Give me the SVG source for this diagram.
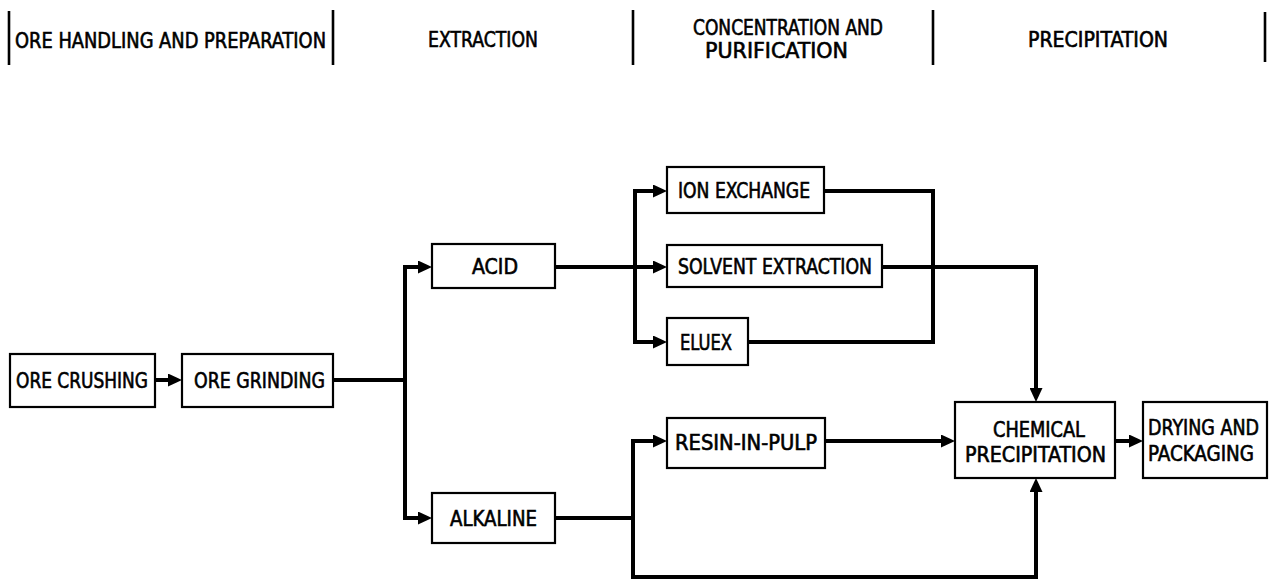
<svg xmlns="http://www.w3.org/2000/svg" width="1271" height="581" viewBox="0 0 1271 581">
<style>
  .bg { fill: #ffffff; }
  .box { fill: #ffffff; stroke: #000; stroke-width: 2.2; }
  .hdr { stroke: #000; stroke-width: 2.6; }
  .t { font-family: "Liberation Sans Narrow", "DejaVu Sans Condensed", "Liberation Sans", sans-serif; font-size: 21px; font-weight: normal; fill: #000; stroke: #000; stroke-width: 0.6; }
  .c { fill: none; stroke: #000; stroke-width: 4; stroke-linejoin: miter; stroke-linecap: square; }
</style>
<defs>
  <marker id="ah" markerWidth="14" markerHeight="13" refX="6" refY="6.5" orient="auto" markerUnits="userSpaceOnUse">
    <path d="M0,0 L14,6.5 L0,13 z" fill="#000"/>
  </marker>
</defs>
<rect class="bg" x="0" y="0" width="1271" height="581"/>

<g id="headers">
  <line class="hdr" x1="9" y1="11" x2="9" y2="65"/>
  <line class="hdr" x1="333" y1="10" x2="333" y2="65"/>
  <line class="hdr" x1="633" y1="10" x2="633" y2="65"/>
  <line class="hdr" x1="933" y1="10" x2="933" y2="65"/>
  <line class="hdr" x1="1265" y1="12" x2="1265" y2="62"/>
  <text class="t" x="15" y="48" textLength="311" lengthAdjust="spacingAndGlyphs">ORE HANDLING AND PREPARATION</text>
  <text class="t" x="428" y="47" textLength="110" lengthAdjust="spacingAndGlyphs">EXTRACTION</text>
  <text class="t" x="693" y="35" textLength="190" lengthAdjust="spacingAndGlyphs">CONCENTRATION AND</text>
  <text class="t" x="705" y="58" textLength="143" lengthAdjust="spacingAndGlyphs">PURIFICATION</text>
  <text class="t" x="1028" y="47" textLength="140" lengthAdjust="spacingAndGlyphs">PRECIPITATION</text>
</g>

<g id="connectors">
  <path class="c" d="M155,380 H174" marker-end="url(#ah)"/>
  <path class="c" d="M333,380 H405"/>
  <path class="c" d="M405,267 V518"/>
  <path class="c" d="M405,267 H424" marker-end="url(#ah)"/>
  <path class="c" d="M405,518 H424" marker-end="url(#ah)"/>
  <path class="c" d="M555,267 H659" marker-end="url(#ah)"/>
  <path class="c" d="M635,191 V342"/>
  <path class="c" d="M635,191 H659" marker-end="url(#ah)"/>
  <path class="c" d="M635,342 H659" marker-end="url(#ah)"/>
  <path class="c" d="M824,191 H933 V342 H748"/>
  <path class="c" d="M882,267 H1036 V394" marker-end="url(#ah)"/>
  <path class="c" d="M555,518 H633"/>
  <path class="c" d="M633,441 V577 H1036 V486" marker-end="url(#ah)"/>
  <path class="c" d="M633,441 H659" marker-end="url(#ah)"/>
  <path class="c" d="M825,441 H947" marker-end="url(#ah)"/>
  <path class="c" d="M1115,441 H1135" marker-end="url(#ah)"/>
</g>

<g id="ore-crushing">
  <rect class="box" x="10" y="354" width="145" height="53"/>
  <text class="t" x="16" y="388" textLength="132" lengthAdjust="spacingAndGlyphs">ORE CRUSHING</text>
</g>
<g id="ore-grinding">
  <rect class="box" x="182" y="354" width="151" height="53"/>
  <text class="t" x="194" y="388" textLength="131" lengthAdjust="spacingAndGlyphs">ORE GRINDING</text>
</g>
<g id="acid">
  <rect class="box" x="432" y="244" width="123" height="44"/>
  <text class="t" x="472" y="274" textLength="46" lengthAdjust="spacingAndGlyphs">ACID</text>
</g>
<g id="alkaline">
  <rect class="box" x="432" y="493" width="123" height="50"/>
  <text class="t" x="450" y="526" textLength="87" lengthAdjust="spacingAndGlyphs">ALKALINE</text>
</g>
<g id="ion-exchange">
  <rect class="box" x="667" y="167" width="157" height="46"/>
  <text class="t" x="678" y="198" textLength="132" lengthAdjust="spacingAndGlyphs">ION EXCHANGE</text>
</g>
<g id="solvent-extraction">
  <rect class="box" x="667" y="245" width="215" height="42"/>
  <text class="t" x="678" y="274" textLength="194" lengthAdjust="spacingAndGlyphs">SOLVENT EXTRACTION</text>
</g>
<g id="eluex">
  <rect class="box" x="667" y="318" width="81" height="47"/>
  <text class="t" x="680" y="350" textLength="52" lengthAdjust="spacingAndGlyphs">ELUEX</text>
</g>
<g id="resin-in-pulp">
  <rect class="box" x="667" y="418" width="158" height="50"/>
  <text class="t" x="675" y="450" textLength="142" lengthAdjust="spacingAndGlyphs">RESIN-IN-PULP</text>
</g>
<g id="chemical-precipitation">
  <rect class="box" x="955" y="402" width="160" height="76"/>
  <text class="t" x="993" y="437" textLength="92" lengthAdjust="spacingAndGlyphs">CHEMICAL</text>
  <text class="t" x="965" y="462" textLength="141" lengthAdjust="spacingAndGlyphs">PRECIPITATION</text>
</g>
<g id="drying-packaging">
  <rect class="box" x="1143" y="402" width="124" height="76"/>
  <text class="t" x="1148" y="435" textLength="111" lengthAdjust="spacingAndGlyphs">DRYING AND</text>
  <text class="t" x="1148" y="461" textLength="106" lengthAdjust="spacingAndGlyphs">PACKAGING</text>
</g>
</svg>
